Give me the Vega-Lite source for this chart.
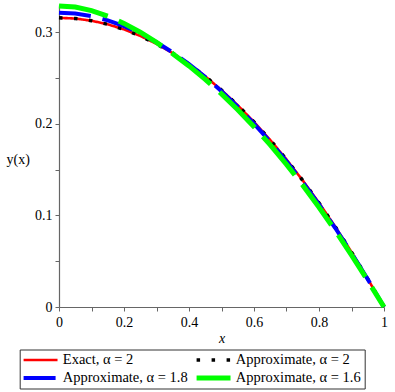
{
  "$schema": "https://vega.github.io/schema/vega-lite/v6.json",
  "autosize": {"type": "none"},
  "padding": {"left": 59, "top": 5, "right": 11, "bottom": 85},
  "width": 325,
  "height": 302,
  "background": "white",
  "config": {
    "view": {"stroke": null},
    "font": "Liberation Serif",
    "axis": {"domainColor": "#666666", "tickColor": "#666666", "labelColor": "#000000", "labelFont": "Liberation Serif", "labelFontSize": 14, "titleFont": "Liberation Serif", "titleFontSize": 14, "titleFontWeight": "normal", "titleColor": "#000000", "grid": false, "labelOverlap": false, "labelFlush": false, "domainWidth": 1.2},
    "legend": {"labelFont": "Liberation Serif"}
  },
  "data": {"values": [
    {"x":0,"y":0.316,"s":"Exact, α = 2"},{"x":0.05,"y":0.31521,"s":"Exact, α = 2"},{"x":0.1,"y":0.31284,"s":"Exact, α = 2"},{"x":0.15,"y":0.30889,"s":"Exact, α = 2"},{"x":0.2,"y":0.30336,"s":"Exact, α = 2"},{"x":0.25,"y":0.29625,"s":"Exact, α = 2"},{"x":0.3,"y":0.28756,"s":"Exact, α = 2"},{"x":0.35,"y":0.27729,"s":"Exact, α = 2"},{"x":0.4,"y":0.26544,"s":"Exact, α = 2"},{"x":0.45,"y":0.25201,"s":"Exact, α = 2"},{"x":0.5,"y":0.237,"s":"Exact, α = 2"},{"x":0.55,"y":0.22041,"s":"Exact, α = 2"},{"x":0.6,"y":0.20224,"s":"Exact, α = 2"},{"x":0.65,"y":0.18249,"s":"Exact, α = 2"},{"x":0.7,"y":0.16116,"s":"Exact, α = 2"},{"x":0.75,"y":0.13825,"s":"Exact, α = 2"},{"x":0.8,"y":0.11376,"s":"Exact, α = 2"},{"x":0.85,"y":0.08769,"s":"Exact, α = 2"},{"x":0.9,"y":0.06004,"s":"Exact, α = 2"},{"x":0.95,"y":0.03081,"s":"Exact, α = 2"},{"x":1,"y":0,"s":"Exact, α = 2"},
    {"x":0,"y":0.316,"s":"Approximate, α = 2"},{"x":0.05,"y":0.31521,"s":"Approximate, α = 2"},{"x":0.1,"y":0.31284,"s":"Approximate, α = 2"},{"x":0.15,"y":0.30889,"s":"Approximate, α = 2"},{"x":0.2,"y":0.30336,"s":"Approximate, α = 2"},{"x":0.25,"y":0.29625,"s":"Approximate, α = 2"},{"x":0.3,"y":0.28756,"s":"Approximate, α = 2"},{"x":0.35,"y":0.27729,"s":"Approximate, α = 2"},{"x":0.4,"y":0.26544,"s":"Approximate, α = 2"},{"x":0.45,"y":0.25201,"s":"Approximate, α = 2"},{"x":0.5,"y":0.237,"s":"Approximate, α = 2"},{"x":0.55,"y":0.22041,"s":"Approximate, α = 2"},{"x":0.6,"y":0.20224,"s":"Approximate, α = 2"},{"x":0.65,"y":0.18249,"s":"Approximate, α = 2"},{"x":0.7,"y":0.16116,"s":"Approximate, α = 2"},{"x":0.75,"y":0.13825,"s":"Approximate, α = 2"},{"x":0.8,"y":0.11376,"s":"Approximate, α = 2"},{"x":0.85,"y":0.08769,"s":"Approximate, α = 2"},{"x":0.9,"y":0.06004,"s":"Approximate, α = 2"},{"x":0.95,"y":0.03081,"s":"Approximate, α = 2"},{"x":1,"y":0,"s":"Approximate, α = 2"},
    {"x":0,"y":0.3216,"s":"Approximate, α = 1.8"},{"x":0.05,"y":0.3206,"s":"Approximate, α = 1.8"},{"x":0.1,"y":0.3178,"s":"Approximate, α = 1.8"},{"x":0.15,"y":0.3132,"s":"Approximate, α = 1.8"},{"x":0.2,"y":0.3069,"s":"Approximate, α = 1.8"},{"x":0.25,"y":0.2989,"s":"Approximate, α = 1.8"},{"x":0.3,"y":0.2893,"s":"Approximate, α = 1.8"},{"x":0.35,"y":0.2781,"s":"Approximate, α = 1.8"},{"x":0.4,"y":0.2654,"s":"Approximate, α = 1.8"},{"x":0.45,"y":0.2513,"s":"Approximate, α = 1.8"},{"x":0.5,"y":0.2358,"s":"Approximate, α = 1.8"},{"x":0.55,"y":0.2188,"s":"Approximate, α = 1.8"},{"x":0.6,"y":0.2003,"s":"Approximate, α = 1.8"},{"x":0.65,"y":0.1805,"s":"Approximate, α = 1.8"},{"x":0.7,"y":0.1592,"s":"Approximate, α = 1.8"},{"x":0.75,"y":0.1364,"s":"Approximate, α = 1.8"},{"x":0.8,"y":0.1121,"s":"Approximate, α = 1.8"},{"x":0.85,"y":0.0863,"s":"Approximate, α = 1.8"},{"x":0.9,"y":0.059,"s":"Approximate, α = 1.8"},{"x":0.95,"y":0.0303,"s":"Approximate, α = 1.8"},{"x":1,"y":0,"s":"Approximate, α = 1.8"},
    {"x":0,"y":0.329,"s":"Approximate, α = 1.6"},{"x":0.05,"y":0.3277,"s":"Approximate, α = 1.6"},{"x":0.1,"y":0.3238,"s":"Approximate, α = 1.6"},{"x":0.15,"y":0.3179,"s":"Approximate, α = 1.6"},{"x":0.2,"y":0.3099,"s":"Approximate, α = 1.6"},{"x":0.25,"y":0.3003,"s":"Approximate, α = 1.6"},{"x":0.3,"y":0.2891,"s":"Approximate, α = 1.6"},{"x":0.35,"y":0.2768,"s":"Approximate, α = 1.6"},{"x":0.4,"y":0.2634,"s":"Approximate, α = 1.6"},{"x":0.45,"y":0.2487,"s":"Approximate, α = 1.6"},{"x":0.5,"y":0.2328,"s":"Approximate, α = 1.6"},{"x":0.55,"y":0.2156,"s":"Approximate, α = 1.6"},{"x":0.6,"y":0.197,"s":"Approximate, α = 1.6"},{"x":0.65,"y":0.1771,"s":"Approximate, α = 1.6"},{"x":0.7,"y":0.1558,"s":"Approximate, α = 1.6"},{"x":0.75,"y":0.1331,"s":"Approximate, α = 1.6"},{"x":0.8,"y":0.109,"s":"Approximate, α = 1.6"},{"x":0.85,"y":0.0835,"s":"Approximate, α = 1.6"},{"x":0.9,"y":0.0567,"s":"Approximate, α = 1.6"},{"x":0.95,"y":0.0289,"s":"Approximate, α = 1.6"},{"x":1,"y":0,"s":"Approximate, α = 1.6"}
  ]},
  "mark": {"type": "line", "clip": false},
  "encoding": {
    "x": {"field": "x", "type": "quantitative", "scale": {"domain": [0, 1], "nice": false, "zero": false},
      "axis": {"values": [0,0.1,0.2,0.3,0.4,0.5,0.6,0.7,0.8,0.9,1], "format": ".1~f", "labelExpr": "round(datum.value*10) % 2 == 0 ? datum.label : ''", "tickSize": 4, "labelPadding": 4, "title": "x", "titleFontStyle": "italic", "titleY": 31, "titleBaseline": "middle"}},
    "y": {"field": "y", "type": "quantitative", "scale": {"domain": [0, 0.33], "nice": false},
      "axis": {"values": [0,0.05,0.1,0.15,0.2,0.25,0.3], "format": ".1~f", "labelExpr": "round(datum.value*100) % 10 == 0 ? datum.label : ''", "tickSize": 4, "labelPadding": 3, "title": "y(x)", "titleAngle": 0, "titleAlign": "left", "titleBaseline": "middle", "titleX": -53, "titleY": 154}},
    "color": {"field": "s", "type": "nominal", "sort": ["Exact, α = 2", "Approximate, α = 2", "Approximate, α = 1.8", "Approximate, α = 1.6"],
      "scale": {"domain": ["Exact, α = 2", "Approximate, α = 2", "Approximate, α = 1.8", "Approximate, α = 1.6"], "range": ["#ff0000", "#000000", "#0000ff", "#00ff00"]},
      "legend": {"title": null, "orient": "none", "legendX": -39.3, "legendY": 344.5, "columns": 2, "direction": "horizontal", "columnPadding": 7, "rowPadding": 2, "padding": 3, "clipHeight": 15, "strokeColor": "#333333", "symbolType": "M-1.5,0L6.5,0", "symbolSize": 72, "labelFontSize": 14.5, "labelOffset": 25.6, "labelColor": "#000000", "labelLimit": 300}},
    "strokeDash": {"field": "s", "type": "nominal",
      "scale": {"domain": ["Exact, α = 2", "Approximate, α = 2", "Approximate, α = 1.8", "Approximate, α = 1.6"], "range": [[1, 0], [3.5, 11.5], [32, 12], [50, 12]]}},
    "strokeWidth": {"field": "s", "type": "nominal",
      "scale": {"type": "ordinal", "domain": ["Exact, α = 2", "Approximate, α = 2", "Approximate, α = 1.8", "Approximate, α = 1.6"], "range": [2.6, 3.5, 4, 5]}},
    "order": {"field": "x", "type": "quantitative"}
  }
}
